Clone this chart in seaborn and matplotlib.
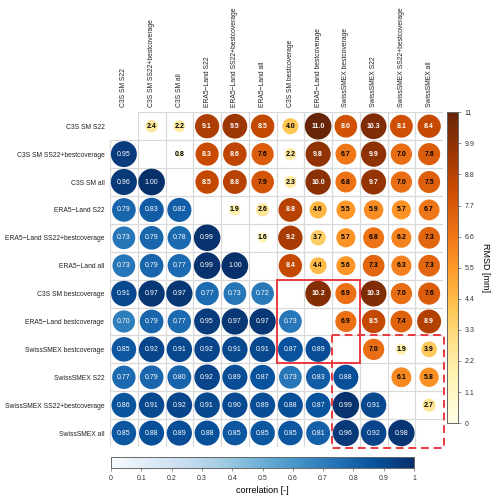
import numpy as np
import pandas as pd
import seaborn as sns
import matplotlib.pyplot as plt
import matplotlib as mpl
from matplotlib.patches import Rectangle

# produits compares (meme ordre en lignes et colonnes)
produits = [
    "C3S SM S22",
    "C3S SM SS22+bestcoverage",
    "C3S SM all",
    "ERA5\u2212Land S22",
    "ERA5\u2212Land SS22+bestcoverage",
    "ERA5\u2212Land all",
    "C3S SM bestcoverage",
    "ERA5\u2212Land bestcoverage",
    "SwissSMEX bestcoverage",
    "SwissSMEX S22",
    "SwissSMEX SS22+bestcoverage",
    "SwissSMEX all",
]

# triangle superieur : RMSD [mm], ligne i -> colonnes i+1 .. 11
rmsd_rows = [
    [2.4, 2.2, 9.1, 9.5, 8.5, 4.0, 11.0, 8.0, 10.3, 8.1, 8.4],
    [0.8, 8.3, 8.6, 7.6, 2.2, 9.8, 6.7, 9.9, 7.0, 7.6],
    [8.5, 8.8, 7.9, 2.3, 10.0, 6.8, 9.7, 7.0, 7.5],
    [1.9, 2.6, 8.8, 4.6, 5.5, 5.9, 5.7, 6.7],
    [1.6, 9.2, 3.7, 5.7, 6.8, 6.2, 7.3],
    [8.4, 4.4, 5.6, 7.3, 6.3, 7.3],
    [10.2, 6.9, 10.3, 7.0, 7.6],
    [6.9, 8.5, 7.4, 8.9],
    [7.0, 1.9, 3.9],
    [6.1, 5.8],
    [2.7],
]

# triangle inferieur : correlation, ligne i -> colonnes 0 .. i-1
corr_rows = [
    [0.95],
    [0.96, 1.00],
    [0.79, 0.83, 0.82],
    [0.73, 0.79, 0.78, 0.99],
    [0.73, 0.79, 0.77, 0.99, 1.00],
    [0.91, 0.97, 0.97, 0.77, 0.73, 0.72],
    [0.70, 0.79, 0.77, 0.95, 0.97, 0.97, 0.73],
    [0.85, 0.92, 0.91, 0.92, 0.91, 0.91, 0.87, 0.89],
    [0.77, 0.79, 0.80, 0.92, 0.89, 0.87, 0.73, 0.83, 0.88],
    [0.86, 0.91, 0.92, 0.91, 0.90, 0.89, 0.88, 0.87, 0.99, 0.91],
    [0.85, 0.88, 0.89, 0.88, 0.85, 0.85, 0.85, 0.81, 0.96, 0.92, 0.98],
]

rmsd_max = 11
rmsd_ticks = [0, 1.1, 2.2, 3.3, 4.4, 5.5, 6.6, 7.7, 8.8, 9.9, 11]
corr_ticks = [0, 0.1, 0.2, 0.3, 0.4, 0.5, 0.6, 0.7, 0.8, 0.9, 1]

# blocs encadres (indices de debut / fin)
bloc_plein = (6, 8)
bloc_tirets = (8, 11)

# tables longues
n = len(produits)
df_rmsd = pd.DataFrame(
    [(i, j, v) for i, row in enumerate(rmsd_rows) for j, v in zip(range(i + 1, n), row)],
    columns=["ligne", "colonne", "valeur"],
)
df_corr = pd.DataFrame(
    [(i + 1, j, v) for i, row in enumerate(corr_rows) for j, v in enumerate(row)],
    columns=["ligne", "colonne", "valeur"],
)

plt.rcParams["font.family"] = ["Liberation Sans", "DejaVu Sans"]

fig = plt.figure(figsize=(5, 4.99), dpi=100)
ax = fig.add_axes([0.22, 0.1042, 0.666, 0.6708])

# grille : un cadre gris par case hors diagonale
for i in range(n):
    for j in range(n):
        if i != j:
            ax.add_patch(Rectangle((j - 0.5, i - 0.5), 1, 1, fill=False,
                                   ec="#d9d9d9", lw=0.8, zorder=0))

smax = 368
sns.scatterplot(data=df_corr, x="colonne", y="ligne", hue="valeur", size="valeur",
                palette="Blues", hue_norm=(0, 1), sizes=(0, smax), size_norm=(0, 1),
                linewidth=0, legend=False, ax=ax, zorder=2)
sns.scatterplot(data=df_rmsd, x="colonne", y="ligne", hue="valeur", size="valeur",
                palette="YlOrBr", hue_norm=(0, rmsd_max), sizes=(0, smax),
                size_norm=(0, rmsd_max), linewidth=0, legend=False, ax=ax, zorder=2)

for _, r in df_corr.iterrows():
    ax.text(r["colonne"], r["ligne"], f"{r['valeur']:.2f}", ha="center", va="center",
            fontsize=5, color="white", zorder=3)
for _, r in df_rmsd.iterrows():
    ax.text(r["colonne"], r["ligne"], f"{r['valeur']:.1f}", ha="center", va="center",
            fontsize=5, fontweight="bold",
            color="white" if r["valeur"] >= 8 else "black", zorder=3)

# encadres rouges
a, b = bloc_plein
ax.add_patch(Rectangle((a - 0.5, a - 0.5), b - a + 1, b - a + 1, fill=False,
                       ec="#e8393f", lw=1.4, zorder=4))
a, b = bloc_tirets
ax.add_patch(Rectangle((a - 0.5, a - 0.5), b - a + 1.05, b - a + 1.05, fill=False,
                       ec="#e8393f", lw=1.4, ls=(0, (4, 2.5)), zorder=4, clip_on=False))

ax.set_xlim(-0.5, n - 0.5)
ax.set_ylim(n - 0.5, -0.5)
ax.set_xticks(range(n))
ax.set_yticks(range(n))
ax.set_xticklabels(produits, rotation=90, fontsize=4.9)
ax.set_yticklabels(produits, fontsize=4.9)
ax.xaxis.tick_top()
ax.tick_params(length=0, pad=4, labelcolor="#222222")
ax.set_xlabel("")
ax.set_ylabel("")
for s in ax.spines.values():
    s.set_visible(False)

# barres de couleur
cax_r = fig.add_axes([0.894, 0.152, 0.022, 0.623])
cb_r = fig.colorbar(mpl.cm.ScalarMappable(mpl.colors.Normalize(0, rmsd_max), "YlOrBr"),
                    cax=cax_r, ticks=rmsd_ticks)
cb_r.ax.set_yticklabels([f"{t:g}" for t in rmsd_ticks])
cb_r.set_label("RMSD [mm]", rotation=270, fontsize=6.5, labelpad=11)

cax_c = fig.add_axes([0.222, 0.062, 0.606, 0.022])
cb_c = fig.colorbar(mpl.cm.ScalarMappable(mpl.colors.Normalize(0, 1), "Blues"),
                    cax=cax_c, orientation="horizontal", ticks=corr_ticks)
cb_c.ax.set_xticklabels([f"{t:g}" for t in corr_ticks])
cb_c.set_label("correlation [-]", fontsize=6.5, labelpad=3)

for cb in (cb_r, cb_c):
    cb.outline.set_edgecolor("#666666")
    cb.outline.set_linewidth(0.7)
    cb.ax.tick_params(labelsize=5, length=2, width=0.5, color="#666666",
                      labelcolor="#333333", pad=3)

fig.savefig("out.png", dpi=100)
